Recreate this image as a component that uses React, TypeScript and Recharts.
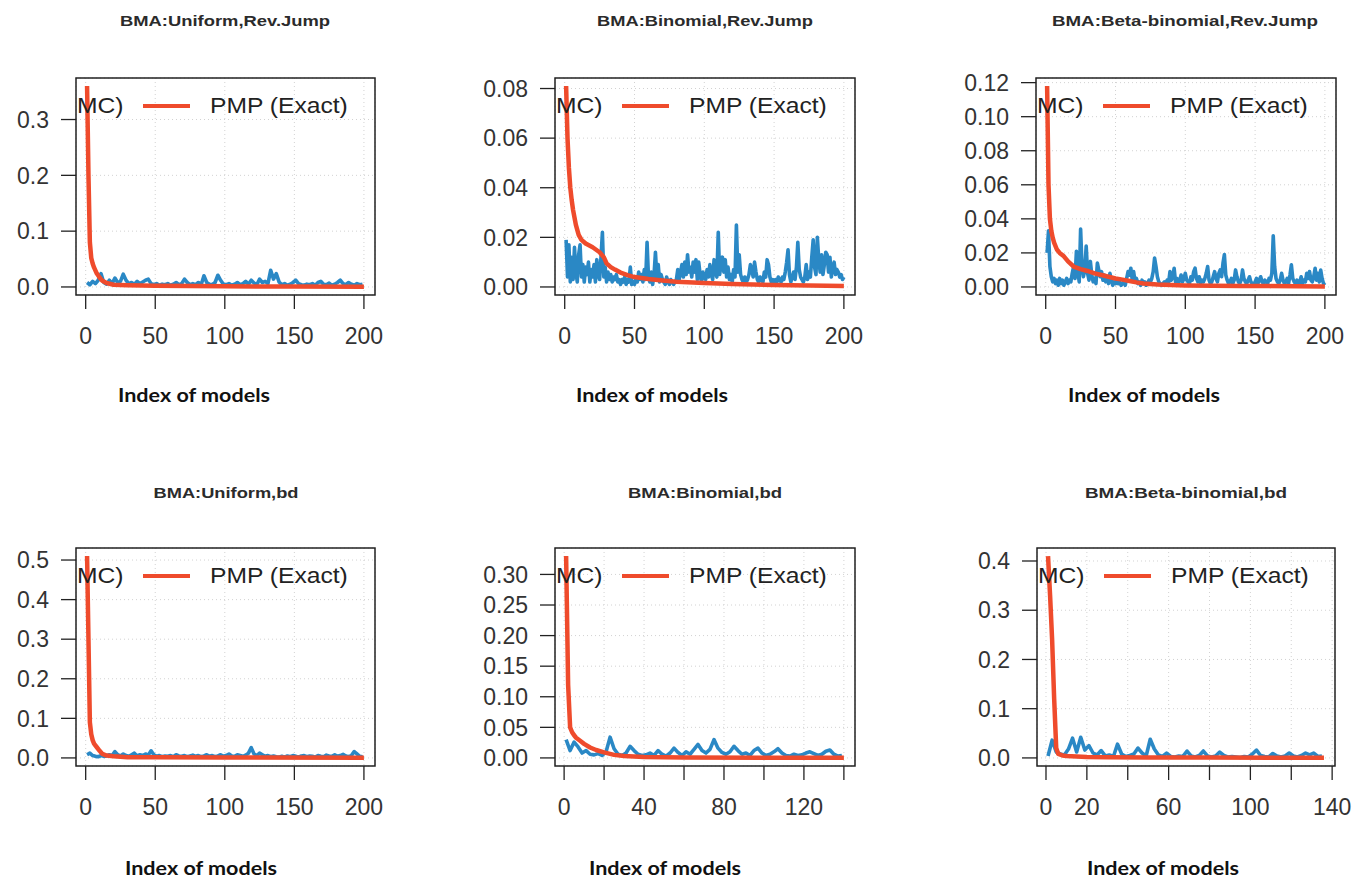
import React from 'react';
import { LineChart, Line, XAxis, YAxis, CartesianGrid, ReferenceArea, Legend } from 'recharts';

const RED = '#EF4B2C';
const BLUE = '#2A88C5';
const FONT = '"Liberation Sans", Arial, Helvetica, sans-serif';

// ---------- Panel 1: BMA:Uniform,Rev.Jump (MCMC sampled every 2 models) ----------
const p1McmcY = [
  0.008, 0.004, 0.010, 0.006, 0.012, 0.024, 0.008, 0.005, 0.012, 0.006,
  0.016, 0.008, 0.010, 0.023, 0.012, 0.006, 0.008, 0.005, 0.010, 0.006,
  0.009, 0.012, 0.014, 0.006, 0.004, 0.006, 0.003, 0.005, 0.004, 0.006,
  0.003, 0.005, 0.008, 0.004, 0.006, 0.014, 0.008, 0.004, 0.006, 0.004,
  0.008, 0.004, 0.020, 0.008, 0.005, 0.004, 0.008, 0.021, 0.012, 0.005,
  0.004, 0.006, 0.003, 0.005, 0.008, 0.004, 0.006, 0.010, 0.005, 0.012,
  0.007, 0.004, 0.014, 0.008, 0.010, 0.006, 0.030, 0.014, 0.024, 0.009,
  0.004, 0.006, 0.003, 0.005, 0.008, 0.012, 0.006, 0.004, 0.003, 0.005,
  0.004, 0.006, 0.003, 0.008, 0.010, 0.005, 0.004, 0.007, 0.003, 0.005,
  0.008, 0.012, 0.006, 0.004, 0.008, 0.005, 0.003, 0.006, 0.004, 0.005,
];
const p1ExactX = [1, 2, 3, 4, 5, 6, 8, 10, 12, 15, 20, 30, 50, 100, 150, 200];
const p1ExactY = [0.36, 0.2, 0.08, 0.052, 0.042, 0.035, 0.024, 0.017, 0.011, 0.007, 0.004, 0.003, 0.002, 0.0012, 0.0008, 0.0005];

// ---------- Panel 2: BMA:Binomial,Rev.Jump (MCMC every model) ----------
const p2McmcY = [
  0.019, 0.004, 0.017, 0.002, 0.012, 0.003, 0.016, 0.006, 0.002, 0.013,
  0.017, 0.004, 0.009, 0.002, 0.008, 0.005, 0.010, 0.002, 0.007, 0.004,
  0.009, 0.002, 0.011, 0.005, 0.003, 0.012, 0.022, 0.004, 0.008, 0.002,
  0.006, 0.003, 0.005, 0.002, 0.004, 0.003, 0.005, 0.002, 0.003, 0.001,
  0.003, 0.002, 0.004, 0.001, 0.003, 0.002, 0.008, 0.001, 0.002, 0.001,
  0.004, 0.002, 0.006, 0.003, 0.005, 0.002, 0.007, 0.003, 0.018, 0.004,
  0.002, 0.006, 0.001, 0.005, 0.014, 0.004, 0.009, 0.002, 0.005, 0.003,
  0.002, 0.001, 0.004, 0.002, 0.001, 0.003, 0.002, 0.001, 0.002, 0.003,
  0.007, 0.003, 0.006, 0.009, 0.004, 0.010, 0.005, 0.013, 0.006, 0.008,
  0.004, 0.010, 0.006, 0.011, 0.003, 0.010, 0.005, 0.002, 0.006, 0.004,
  0.003, 0.007, 0.004, 0.009, 0.005, 0.003, 0.011, 0.006, 0.004, 0.022,
  0.005, 0.009, 0.012, 0.006, 0.011, 0.004, 0.008, 0.003, 0.005, 0.002,
  0.007, 0.004, 0.025, 0.006, 0.013, 0.005, 0.003, 0.002, 0.004, 0.002,
  0.003, 0.005, 0.009, 0.007, 0.004, 0.010, 0.006, 0.003, 0.002, 0.004,
  0.003, 0.002, 0.006, 0.004, 0.011, 0.009, 0.004, 0.002, 0.003, 0.002,
  0.003, 0.002, 0.004, 0.003, 0.002, 0.004, 0.003, 0.006, 0.010, 0.015,
  0.005, 0.002, 0.004, 0.006, 0.003, 0.008, 0.018, 0.007, 0.004, 0.003,
  0.002, 0.004, 0.009, 0.003, 0.006, 0.004, 0.012, 0.019, 0.008, 0.005,
  0.020, 0.011, 0.006, 0.013, 0.005, 0.009, 0.014, 0.013, 0.006, 0.012,
  0.004, 0.008, 0.010, 0.005, 0.007, 0.006, 0.004, 0.005, 0.003, 0.004,
];
const p2ExactX = [1, 2, 3, 4, 5, 6, 8, 10, 12, 15, 20, 25, 28, 30, 33, 36, 40, 45, 50, 60, 70, 80, 100, 120, 150, 175, 200];
const p2ExactY = [0.081, 0.06, 0.048, 0.04, 0.035, 0.031, 0.025, 0.021, 0.019, 0.0175, 0.016, 0.014, 0.012, 0.0095, 0.008, 0.007, 0.0058, 0.0048, 0.004, 0.0032, 0.0026, 0.0021, 0.0016, 0.0012, 0.0008, 0.0006, 0.0004];

// ---------- Panel 3: BMA:Beta-binomial,Rev.Jump (MCMC every model) ----------
const p3McmcY = [
  0.020, 0.033, 0.012, 0.006, 0.003, 0.005, 0.002, 0.004, 0.001, 0.005,
  0.002, 0.004, 0.001, 0.003, 0.005, 0.002, 0.004, 0.003, 0.008, 0.012,
  0.005, 0.021, 0.009, 0.003, 0.034, 0.012, 0.006, 0.010, 0.024, 0.008,
  0.004, 0.015, 0.007, 0.003, 0.005, 0.002, 0.014, 0.010, 0.006, 0.009,
  0.004, 0.007, 0.003, 0.006, 0.002, 0.008, 0.004, 0.001, 0.003, 0.002,
  0.004, 0.002, 0.003, 0.001, 0.002, 0.003, 0.001, 0.005, 0.009, 0.007,
  0.011, 0.004, 0.009, 0.003, 0.005, 0.002, 0.003, 0.001, 0.004, 0.002,
  0.003, 0.001, 0.002, 0.004, 0.003, 0.005, 0.009, 0.017, 0.012, 0.006,
  0.003, 0.002, 0.001, 0.002, 0.003, 0.002, 0.004, 0.002, 0.009, 0.004,
  0.006, 0.011, 0.003, 0.005, 0.002, 0.004, 0.007, 0.003, 0.005, 0.008,
  0.004, 0.003, 0.002, 0.006, 0.004, 0.009, 0.011, 0.005, 0.003, 0.006,
  0.002, 0.004, 0.003, 0.005, 0.008, 0.012, 0.004, 0.002, 0.003, 0.006,
  0.009, 0.005, 0.003, 0.008, 0.010, 0.006, 0.014, 0.019, 0.007, 0.004,
  0.002, 0.003, 0.005, 0.002, 0.004, 0.010, 0.006, 0.003, 0.002, 0.004,
  0.010, 0.005, 0.003, 0.002, 0.004, 0.006, 0.003, 0.002, 0.001, 0.003,
  0.005, 0.002, 0.004, 0.006, 0.003, 0.002, 0.004, 0.003, 0.002, 0.005,
  0.004, 0.008, 0.030, 0.012, 0.005, 0.003, 0.002, 0.004, 0.008, 0.004,
  0.002, 0.003, 0.005, 0.002, 0.007, 0.013, 0.005, 0.003, 0.002, 0.004,
  0.001, 0.003, 0.006, 0.002, 0.004, 0.003, 0.008, 0.005, 0.009, 0.004,
  0.003, 0.006, 0.011, 0.004, 0.008, 0.003, 0.010, 0.005, 0.002, 0.001,
];
const p3ExactX = [1, 2, 3, 4, 5, 6, 8, 10, 13, 16, 20, 25, 30, 35, 40, 45, 50, 55, 60, 65, 70, 80, 90, 100, 120, 140, 160, 180, 200];
const p3ExactY = [0.118, 0.06, 0.04, 0.033, 0.029, 0.026, 0.022, 0.02, 0.018, 0.015, 0.012, 0.0105, 0.0094, 0.008, 0.007, 0.006, 0.005, 0.0043, 0.0035, 0.0027, 0.002, 0.0014, 0.0011, 0.0009, 0.0007, 0.0006, 0.0005, 0.0004, 0.0003];

// ---------- Panel 4: BMA:Uniform,bd (MCMC sampled every 2 models) ----------
const p4McmcY = [
  0.008, 0.012, 0.006, 0.004, 0.003, 0.006, 0.004, 0.005, 0.008, 0.006,
  0.016, 0.008, 0.005, 0.010, 0.006, 0.004, 0.008, 0.012, 0.005, 0.008,
  0.006, 0.010, 0.007, 0.018, 0.008, 0.004, 0.006, 0.003, 0.005, 0.004,
  0.006, 0.003, 0.008, 0.005, 0.004, 0.006, 0.003, 0.005, 0.007, 0.004,
  0.006, 0.003, 0.005, 0.008, 0.004, 0.006, 0.003, 0.005, 0.008, 0.004,
  0.006, 0.010, 0.005, 0.004, 0.008, 0.006, 0.004, 0.007, 0.012, 0.026,
  0.010, 0.006, 0.012, 0.008, 0.004, 0.006, 0.003, 0.005, 0.003, 0.002,
  0.004, 0.002, 0.005, 0.003, 0.006, 0.004, 0.002, 0.005, 0.006, 0.003,
  0.005, 0.004, 0.002, 0.006, 0.004, 0.003, 0.007, 0.005, 0.004, 0.008,
  0.004, 0.006, 0.009, 0.005, 0.003, 0.006, 0.016, 0.010, 0.004, 0.003,
];
const p4ExactX = [1, 2, 3, 4, 5, 6, 8, 10, 12, 15, 20, 30, 50, 100, 200];
const p4ExactY = [0.51, 0.3, 0.09, 0.06, 0.045, 0.036, 0.027, 0.018, 0.01, 0.006, 0.004, 0.002, 0.0015, 0.001, 0.0005];

// ---------- Panel 5: BMA:Binomial,bd (MCMC sampled every 2 models) ----------
const p5McmcY = [
  0.030, 0.012, 0.026, 0.018, 0.008, 0.012, 0.006, 0.005, 0.007, 0.004,
  0.010, 0.034, 0.015, 0.006, 0.004, 0.008, 0.019, 0.012, 0.006, 0.004,
  0.005, 0.008, 0.004, 0.012, 0.006, 0.003, 0.008, 0.016, 0.009, 0.004,
  0.010, 0.006, 0.014, 0.022, 0.012, 0.008, 0.014, 0.030, 0.016, 0.009,
  0.006, 0.010, 0.019, 0.012, 0.006, 0.008, 0.004, 0.012, 0.016, 0.008,
  0.004, 0.006, 0.010, 0.015, 0.008, 0.004, 0.003, 0.006, 0.004, 0.005,
  0.008, 0.010, 0.007, 0.004, 0.006, 0.011, 0.013, 0.006, 0.003, 0.004,
];
const p5ExactX = [1, 2, 3, 4, 5, 6, 8, 10, 13, 16, 20, 25, 30, 40, 60, 100, 140];
const p5ExactY = [0.33, 0.12, 0.05, 0.042, 0.037, 0.033, 0.028, 0.023, 0.017, 0.013, 0.009, 0.005, 0.003, 0.0015, 0.0008, 0.0004, 0.0002];

// ---------- Panel 6: BMA:Beta-binomial,bd (MCMC sampled every 2 models) ----------
const p6McmcY = [
  0.004, 0.036, 0.012, 0.008, 0.006, 0.018, 0.040, 0.012, 0.042, 0.016,
  0.025, 0.010, 0.006, 0.015, 0.004, 0.006, 0.003, 0.028, 0.008, 0.003,
  0.005, 0.008, 0.020, 0.010, 0.004, 0.038, 0.018, 0.006, 0.003, 0.010,
  0.003, 0.002, 0.004, 0.003, 0.014, 0.004, 0.002, 0.005, 0.014, 0.004,
  0.002, 0.004, 0.012, 0.005, 0.002, 0.003, 0.002, 0.001, 0.003, 0.002,
  0.008, 0.016, 0.005, 0.003, 0.002, 0.009, 0.004, 0.002, 0.004, 0.010,
  0.004, 0.002, 0.005, 0.010, 0.006, 0.010, 0.003, 0.004,
];
const p6ExactX = [1, 2, 3, 4, 5, 6, 8, 10, 15, 20, 30, 50, 80, 136];
const p6ExactY = [0.41, 0.33, 0.24, 0.12, 0.02, 0.008, 0.005, 0.004, 0.003, 0.002, 0.0015, 0.001, 0.0007, 0.0004];

// ---------- titles, ticks ----------
const titles = [
  'BMA:Uniform,Rev.Jump',
  'BMA:Binomial,Rev.Jump',
  'BMA:Beta-binomial,Rev.Jump',
  'BMA:Uniform,bd',
  'BMA:Binomial,bd',
  'BMA:Beta-binomial,bd',
];
const xLabelText = 'Index of models';
const xTicks200 = [0, 50, 100, 150, 200];
const xTicks140 = [0, 20, 40, 60, 80, 100, 120, 140];
const xLabels5 = [0, 40, 80, 120];
const xLabels6 = [0, 20, 60, 100, 140];
const yTicks1 = [0, 0.1, 0.2, 0.3];
const yTicks2 = [0, 0.02, 0.04, 0.06, 0.08];
const yTicks3 = [0, 0.02, 0.04, 0.06, 0.08, 0.1, 0.12];
const yTicks4 = [0, 0.1, 0.2, 0.3, 0.4, 0.5];
const yTicks5 = [0, 0.05, 0.1, 0.15, 0.2, 0.25, 0.3];
const yTicks6 = [0, 0.1, 0.2, 0.3, 0.4];

const every1 = (ys: number[]) => ys.map((y, i) => ({ x: i + 1, y }));
const every2 = (ys: number[]) => ys.map((y, i) => ({ x: 1 + 2 * i, y }));
const pairs = (xs: number[], ys: number[]) => xs.map((x, i) => ({ x, y: ys[i] }));

type Panel = {
  title: string;
  titleW: number;
  titleCx: number;
  titleBase: number;
  box: [number, number, number, number];
  mcmc: { x: number; y: number }[];
  exact: { x: number; y: number }[];
  xTicks: number[];
  xLabels: number[];
  yTicks: number[];
  yDigits: number;
  labelCx: number;
  labelBase: number;
};

const panels: Panel[] = [
  { title: titles[0], titleW: 210, titleCx: 225, titleBase: 26, box: [76, 78, 375, 295], mcmc: every2(p1McmcY), exact: pairs(p1ExactX, p1ExactY), xTicks: xTicks200, xLabels: xTicks200, yTicks: yTicks1, yDigits: 1, labelCx: 194, labelBase: 402 },
  { title: titles[1], titleW: 216, titleCx: 705, titleBase: 26, box: [555, 78, 855, 295], mcmc: every1(p2McmcY), exact: pairs(p2ExactX, p2ExactY), xTicks: xTicks200, xLabels: xTicks200, yTicks: yTicks2, yDigits: 2, labelCx: 652, labelBase: 402 },
  { title: titles[2], titleW: 266, titleCx: 1185, titleBase: 26, box: [1036, 78, 1336, 295], mcmc: every1(p3McmcY), exact: pairs(p3ExactX, p3ExactY), xTicks: xTicks200, xLabels: xTicks200, yTicks: yTicks3, yDigits: 2, labelCx: 1144, labelBase: 402 },
  { title: titles[3], titleW: 145, titleCx: 226, titleBase: 498, box: [76, 548, 375, 766], mcmc: every2(p4McmcY), exact: pairs(p4ExactX, p4ExactY), xTicks: xTicks200, xLabels: xTicks200, yTicks: yTicks4, yDigits: 1, labelCx: 201, labelBase: 875 },
  { title: titles[4], titleW: 154, titleCx: 705, titleBase: 498, box: [555, 548, 855, 766], mcmc: every2(p5McmcY), exact: pairs(p5ExactX, p5ExactY), xTicks: xTicks140, xLabels: xLabels5, yTicks: yTicks5, yDigits: 2, labelCx: 665, labelBase: 875 },
  { title: titles[5], titleW: 202, titleCx: 1186, titleBase: 498, box: [1037, 548, 1335, 766], mcmc: every2(p6McmcY), exact: pairs(p6ExactX, p6ExactY), xTicks: xTicks140, xLabels: xLabels6, yTicks: yTicks6, yDigits: 1, labelCx: 1163, labelBase: 875 },
];

// R-style axis range: data range extended by 4% on each side
const rRange = (vals: number[]): [number, number] => {
  const lo = Math.min(...vals);
  const hi = Math.max(...vals);
  const pad = 0.04 * (hi - lo);
  return [lo - pad, hi + pad];
};

const Y_AXIS_W = 90;
const M_TOP = 10;
const M_RIGHT = 32;
const X_AXIS_H = 50;
const M_BOTTOM = 5;

const makeXTick = (labels: number[]) => (props: any) => {
  const { x, y, payload } = props;
  if (!labels.includes(payload.value)) return <g />;
  return (
    <text x={x} y={y} dy="0.71em" textAnchor="middle" fill="#333" fontSize={23} fontFamily={FONT}>
      {payload.value}
    </text>
  );
};

const makeLegend = (boxW: number) => (props: any) => {
  const payload: any[] = props.payload || [];
  const mc = payload.find((p) => p.value === 'PMP (MCMC)');
  const ex = payload.find((p) => p.value === 'PMP (Exact)');
  return (
    <div
      style={{
        position: 'relative',
        width: boxW,
        height: 30,
        overflow: 'hidden',
        fontFamily: FONT,
        fontSize: 22,
        color: '#222',
        lineHeight: '30px',
      }}
    >
      <div style={{ position: 'absolute', left: -170, top: 13, width: 47, height: 4, background: mc?.color ?? BLUE }} />
      <span
        style={{
          position: 'absolute',
          right: boxW - 47,
          top: 0,
          whiteSpace: 'nowrap',
          transform: 'scaleX(1.12)',
          transformOrigin: 'right center',
        }}
      >
        {mc?.value ?? 'PMP (MCMC)'}
      </span>
      <div style={{ position: 'absolute', left: 67, top: 13, width: 47, height: 4, background: ex?.color ?? RED }} />
      <span
        style={{
          position: 'absolute',
          left: 134,
          top: 0,
          whiteSpace: 'nowrap',
          transform: 'scaleX(1.12)',
          transformOrigin: 'left center',
        }}
      >
        {ex?.value ?? 'PMP (Exact)'}
      </span>
    </div>
  );
};

const PanelChart = ({ p }: { p: Panel }) => {
  const [L, T, R, B] = p.box;
  const boxW = R - L;
  const boxH = B - T;
  const W = boxW + Y_AXIS_W + M_RIGHT;
  const H = boxH + M_TOP + X_AXIS_H + M_BOTTOM;
  const allX = [...p.mcmc.map((d) => d.x), ...p.exact.map((d) => d.x)];
  const allY = [...p.mcmc.map((d) => d.y), ...p.exact.map((d) => d.y), 0];
  const xDom = rRange(allX);
  const yDom = rRange(allY);
  return (
    <div style={{ position: 'absolute', left: L - Y_AXIS_W, top: T - M_TOP, width: W, height: H }}>
      <LineChart width={W} height={H} margin={{ top: M_TOP, right: M_RIGHT, bottom: M_BOTTOM, left: 0 }}>
        <CartesianGrid stroke="#d2d2d2" strokeDasharray="1 3" strokeWidth={1} />
        <XAxis
          type="number"
          dataKey="x"
          domain={xDom}
          allowDataOverflow
          ticks={p.xTicks}
          interval={0}
          height={X_AXIS_H}
          axisLine={false}
          tickLine={{ stroke: '#222', strokeWidth: 1.3 }}
          tickSize={14}
          tickMargin={19}
          tick={makeXTick(p.xLabels)}
        />
        <YAxis
          type="number"
          domain={yDom}
          allowDataOverflow
          ticks={p.yTicks}
          interval={0}
          width={Y_AXIS_W}
          axisLine={false}
          tickLine={{ stroke: '#222', strokeWidth: 1.3 }}
          tickSize={15}
          tickMargin={12}
          tick={{ fill: '#333', fontSize: 23, fontFamily: FONT }}
          tickFormatter={(v: number) => v.toFixed(p.yDigits)}
        />
        <Line
          data={p.mcmc}
          dataKey="y"
          name="PMP (MCMC)"
          type="linear"
          stroke={BLUE}
          strokeWidth={3.6}
          dot={false}
          activeDot={false}
          isAnimationActive={false}
          strokeLinejoin="round"
        />
        <Line
          data={p.exact}
          dataKey="y"
          name="PMP (Exact)"
          type="linear"
          stroke={RED}
          strokeWidth={4.5}
          dot={false}
          activeDot={false}
          isAnimationActive={false}
          strokeLinejoin="round"
        />
        <ReferenceArea
          x1={xDom[0]}
          x2={xDom[1]}
          y1={yDom[0]}
          y2={yDom[1]}
          fill="none"
          fillOpacity={0}
          stroke="#222"
          strokeWidth={1.5}
          ifOverflow="visible"
        />
        <Legend
          layout="horizontal"
          verticalAlign="middle"
          align="center"
          content={makeLegend(boxW)}
          wrapperStyle={{ position: 'absolute', left: Y_AXIS_W, top: M_TOP + 13, width: boxW, height: 30 }}
        />
      </LineChart>
    </div>
  );
};

export default function App() {
  return (
    <div style={{ position: 'absolute', left: 0, top: 0, width: 1369, height: 880, background: '#fff', overflow: 'hidden' }}>
      {panels.map((p, i) => (
        <PanelChart key={i} p={p} />
      ))}
      <svg width={1369} height={880} style={{ position: 'absolute', left: 0, top: 0, pointerEvents: 'none' }}>
        {panels.map((p, i) => (
          <g key={i}>
            <text
              x={p.titleCx}
              y={p.titleBase}
              textAnchor="middle"
              fontFamily={FONT}
              fontWeight={700}
              fontSize={14}
              fill="#2b2b2b"
              textLength={p.titleW}
              lengthAdjust="spacingAndGlyphs"
            >
              {p.title}
            </text>
            <text
              x={p.labelCx}
              y={p.labelBase}
              textAnchor="middle"
              fontFamily="Lato, 'Open Sans', sans-serif"
              fontWeight={700}
              fontSize={19.5}
              fill="#111"
              textLength={152}
              lengthAdjust="spacingAndGlyphs"
            >
              {xLabelText}
            </text>
          </g>
        ))}
      </svg>
    </div>
  );
}
